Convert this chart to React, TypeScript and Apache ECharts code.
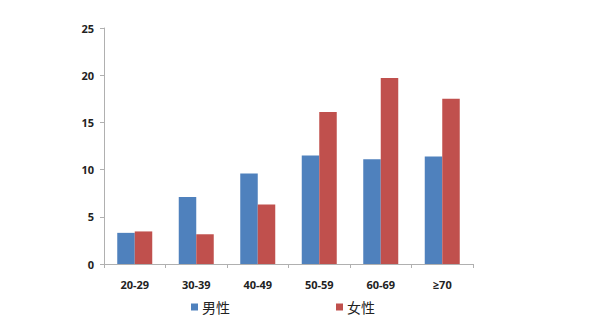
import React, { useEffect, useRef } from "react";
import * as echarts from "echarts";

const categories = ["20-29", "30-39", "40-49", "50-59", "60-69", "≥70"];
const maleValues = [3.3, 7.1, 9.6, 11.5, 11.1, 11.4];
const femaleValues = [3.45, 3.15, 6.3, 16.1, 19.7, 17.5];
const seriesNames = ["男性", "女性"];

export default function App() {
  const ref = useRef<HTMLDivElement>(null);
  useEffect(() => {
    if (!ref.current) return;
    const chart = echarts.init(ref.current, undefined, { renderer: "svg" });
    const font = "'Open Sans', 'Noto Sans', sans-serif";
    chart.setOption({
      animation: false,
      grid: { left: 104, right: 133, top: 28, bottom: 60 },
      legend: {
        data: seriesNames,
        left: 191,
        top: 300,
        padding: 0,
        itemWidth: 7,
        itemHeight: 7,
        itemGap: 106,
        icon: "rect",
        textStyle: { fontSize: 14, color: "#222", fontFamily: "'Noto Sans CJK SC', sans-serif", padding: [0, 0, 0, -1] },
      },
      xAxis: {
        type: "category",
        data: categories,
        axisLine: { lineStyle: { color: "#b0b0b0" } },
        axisTick: { show: true, length: 4, lineStyle: { color: "#b0b0b0" } },
        axisLabel: { fontSize: 11, fontWeight: "bold", color: "#222", margin: 15, fontFamily: font },
      },
      yAxis: {
        type: "value",
        min: 0,
        max: 25,
        interval: 5,
        splitLine: { show: false },
        axisLine: { show: true, lineStyle: { color: "#b0b0b0" } },
        axisTick: { show: true, length: 4, lineStyle: { color: "#b0b0b0" } },
        axisLabel: { fontSize: 11, fontWeight: "bold", color: "#222", margin: 10, fontFamily: font },
      },
      series: [
        {
          name: seriesNames[0],
          type: "bar",
          data: maleValues,
          barWidth: 17.5,
          barGap: "0%",
          itemStyle: { color: "#4F81BD" },
        },
        {
          name: seriesNames[1],
          type: "bar",
          data: femaleValues,
          barWidth: 17.5,
          barGap: "0%",
          itemStyle: { color: "#C0504D" },
        },
      ],
    });
    return () => chart.dispose();
  }, []);
  return <div ref={ref} style={{ width: 606, height: 324, position: "absolute", left: 0, top: 0 }} />;
}
